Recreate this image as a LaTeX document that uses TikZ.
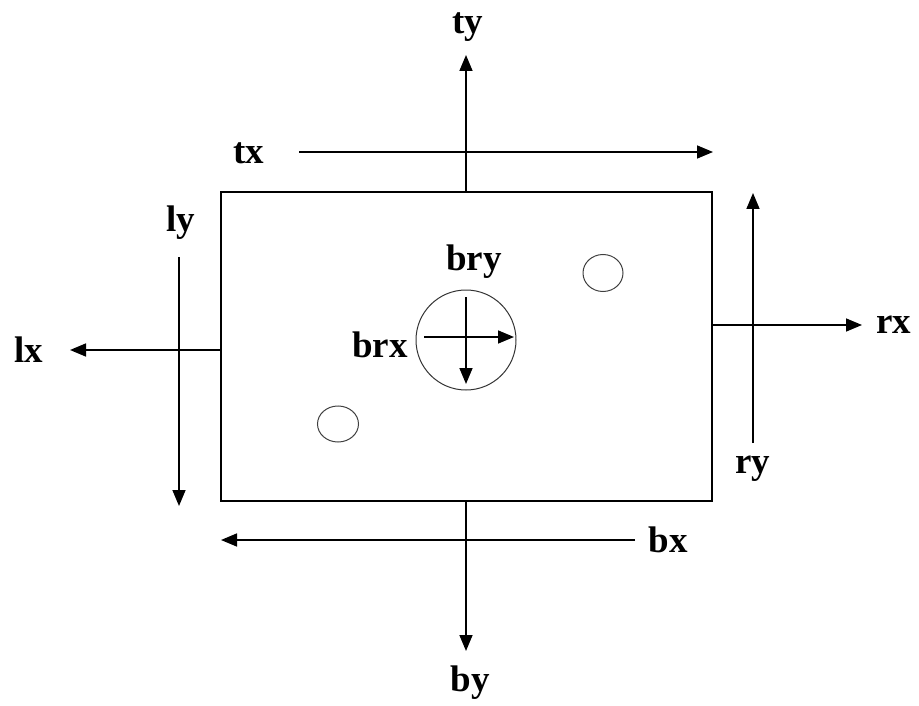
\documentclass[tikz,border=0pt]{standalone}
\usepackage{fontspec}
\setmainfont{Liberation Serif}
\usetikzlibrary{arrows.meta}
\begin{document}
\begin{tikzpicture}[x=1pt,y=-1pt,
  arr/.style={line width=1.6pt,-{Triangle[length=16pt,width=13pt]}},
  lbl/.style={font=\fontsize{37}{40}\selectfont\bfseries,inner sep=0pt},
  hole/.style={draw=black!75,line width=1pt,ellipse}]
\useasboundingbox (0,0) rectangle (919,706);
% plate
\node[draw,line width=1.3pt,minimum width=491pt,minimum height=309pt,inner sep=0pt] (plate) at (466.5,346.5) {};
% holes
\draw[black!75,line width=1pt] (603,273) ellipse [x radius=20,y radius=18.5];
\draw[black!75,line width=1pt] (338,424) ellipse [x radius=20.5,y radius=18];
\node[draw=black!80,line width=1pt,circle,minimum size=100pt,inner sep=0pt] (bolt) at (466,340) {};
% coordinates
\coordinate (tyS) at (466,192); \coordinate (tyE) at (466,55);
\coordinate (txS) at (299,152); \coordinate (txE) at (713,152);
\coordinate (lyS) at (179,257); \coordinate (lyE) at (179,506);
\coordinate (lxS) at (221,350); \coordinate (lxE) at (70,350);
\coordinate (rxS) at (713,325); \coordinate (rxE) at (862,325);
\coordinate (ryS) at (753,443); \coordinate (ryE) at (753,193);
\coordinate (bxS) at (635,540); \coordinate (bxE) at (221,540);
\coordinate (byS) at (466,501); \coordinate (byE) at (466,651);
\coordinate (brxS) at (424,337); \coordinate (brxE) at (514,337);
\coordinate (bryS) at (466,297); \coordinate (bryE) at (466,384);
% arrows
\draw[arr] (tyS) -- (tyE);
\draw[arr] (txS) -- (txE);
\draw[arr] (lyS) -- (lyE);
\draw[arr] (lxS) -- (lxE);
\draw[arr] (rxS) -- (rxE);
\draw[arr] (ryS) -- (ryE);
\draw[arr] (bxS) -- (bxE);
\draw[arr] (byS) -- (byE);
\draw[arr] (brxS) -- (brxE);
\draw[arr] (bryS) -- (bryE);
% labels
\node[lbl] (ty) at (468,27) {ty};
\node[lbl] (tx) at (249,153) {tx};
\node[lbl] (ly) at (181,223) {ly};
\node[lbl] (lx) at (29,350) {lx};
\node[lbl] (rx) at (894,325) {rx};
\node[lbl] (ry) at (753,469) {ry};
\node[lbl] (bx) at (668,540) {bx};
\node[lbl] (by) at (470,683) {by};
\node[lbl] (brx) at (380,345) {brx};
\node[lbl] (bry) at (474,262) {bry};
\end{tikzpicture}
\end{document}
